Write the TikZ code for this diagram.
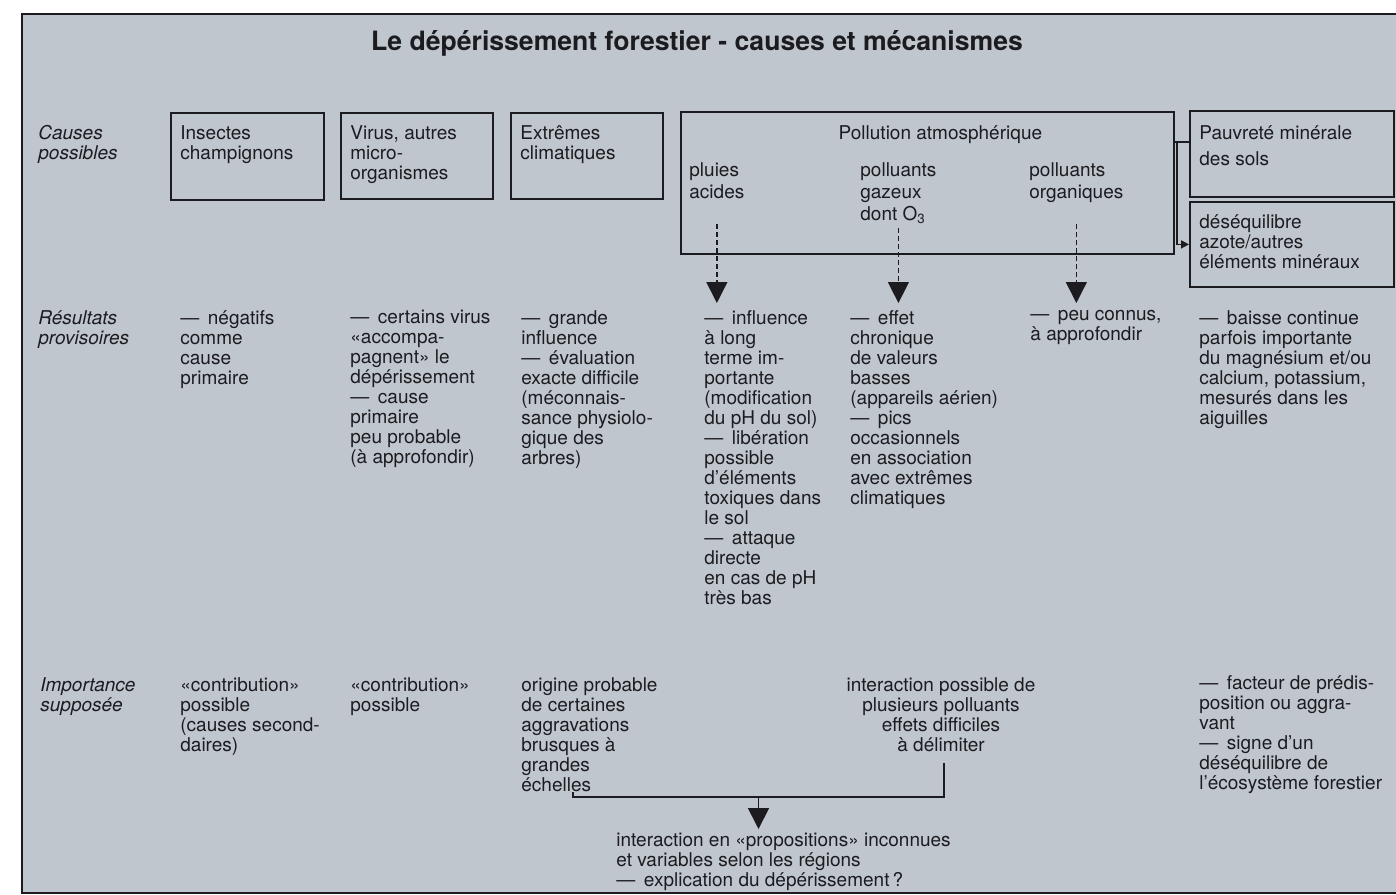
\documentclass[tikz,border=0pt]{standalone}
\usepackage{fontspec}
\setmainfont{TeX Gyre Heros}
\usetikzlibrary{
    arrows.meta,
    positioning,
    calc
}
\definecolor{paper}{RGB}{191,198,206}
\definecolor{ink}{RGB}{28,28,32}
\newcommand{\tiret}{—\hspace{0.45em}}
\tikzset{
  box/.style  = {draw=ink, line width=0.9pt, anchor=north west, inner sep=0pt},
  txt/.style  = {anchor=north west, inner sep=0pt, align=left, text=ink,
                 font=\fontsize{9.5}{10}\selectfont},
  lbl/.style  = {txt, font=\fontsize{9.5}{10}\selectfont\itshape},
  ptxt/.style = {txt, font=\fontsize{9.5}{11}\selectfont}
}

\begin{document}
\begin{tikzpicture}[
  x=0.5pt, y=-0.5pt,
  arr/.style={-{Triangle[width=10.5pt,length=10.5pt]}, ink, line width=0.9pt},
  dasharr/.style={arr, line width=0.7pt, dash pattern=on 2.5pt off 1.5pt, shorten >=3.5pt},
  sarr/.style={-{Triangle[width=4pt,length=4pt]}, ink, line width=0.9pt},
  brk/.style={ink, line width=1pt}
]
\useasboundingbox (0,0) rectangle (1396,894);
\fill[paper] (22,14) rectangle (1430,893);
\draw[ink, line width=1pt] (22,14) rectangle (1430,893);

\node[font=\fontsize{13.3}{16}\selectfont\bfseries, text=ink, anchor=base] (title) at (697,50)
  {Le dépérissement forestier - causes et mécanismes};

% row labels
\node[lbl] (causes) at (38,125) {Causes\\possibles};
\node[lbl] (resultats) at (38,310) {Résultats\\provisoires};
\node[lbl] (importance) at (40,677) {Importance\\supposée};

% causes
\node[box, minimum width=76.5pt, minimum height=43.5pt] (insect) at (170,112) {};
\node[box, minimum width=76pt, minimum height=43pt] (virus) at (340,112) {};
\node[box, minimum width=76pt, minimum height=43pt] (extremes) at (510,112) {};
\node[box, minimum width=246.5pt, minimum height=71pt] (poll) at (680,111) {};
\node[box, minimum width=102pt, minimum height=43pt] (pauv) at (1189,110) {};
\node[box, minimum width=102pt, minimum height=42.5pt] (deseq) at (1189,201) {};

\node[txt] (insectT) at ([shift={(10,13)}]insect.north west) {Insectes\\champignons};
\node[txt] (virusT) at ([shift={(10,13)}]virus.north west) {Virus, autres\\micro-\\organismes};
\node[txt] (extremesT) at ([shift={(10,13)}]extremes.north west) {Extrêmes\\climatiques};
\node[txt, anchor=north] (pollT) at ([shift={(13,14)}]poll.north) {Pollution atmosphérique};
\node[ptxt] (pluies) at ([shift={(9,51)}]poll.north west) {pluies\\acides};
\node[ptxt] (gazeux) at ([shift={(180,51)}]poll.north west) {polluants\\gazeux\\dont O\textsubscript{3}};
\node[ptxt] (organiques) at ([shift={(349,51)}]poll.north west) {polluants\\organiques};
\node[txt, font=\fontsize{9.5}{13}\selectfont] (pauvT) at ([shift={(10,15)}]pauv.north west) {Pauvreté minérale\\des sols};
\node[txt] (deseqT) at ([shift={(10,13)}]deseq.north west) {déséquilibre\\azote/autres\\éléments minéraux};

% resultats provisoires
\node[txt] (r1) at (180,310) {\tiret négatifs\\comme\\cause\\primaire};
\node[txt] (r2) at (350,310) {\tiret certains virus\\«accompa-\\pagnent» le\\dépérissement\\\tiret cause\\primaire\\peu probable\\(à approfondir)};
\node[txt] (r3) at (521,310) {\tiret grande\\influence\\\tiret évaluation\\exacte difficile\\(méconnais-\\sance physiolo-\\gique des\\arbres)};
\node[txt] (r4) at (704,310) {\tiret influence\\à long\\terme im-\\portante\\(modification\\du pH du sol)\\\tiret libération\\possible\\d'éléments\\toxiques dans\\le sol\\\tiret attaque\\directe\\en cas de pH\\très bas};
\node[txt] (r5) at (850,310) {\tiret effet\\chronique\\de valeurs\\basses\\(appareils aérien)\\\tiret pics\\occasionnels\\en association\\avec extrêmes\\climatiques};
\node[txt] (r6) at (1030,310) {\tiret peu connus,\\à approfondir};
\node[txt] (r7) at (1199,310) {\tiret baisse continue\\parfois importante\\du magnésium et/ou\\calcium, potassium,\\mesurés dans les\\aiguilles};

% importance supposee
\node[txt] (i1) at (180,677) {«contribution»\\possible\\(causes second-\\daires)};
\node[txt] (i2) at (350,677) {«contribution»\\possible};
\node[txt] (i3) at (521,677) {origine probable\\de certaines\\aggravations\\brusques à\\grandes\\échelles};
\node[txt, anchor=north, align=center] (i4) at (941,677) {interaction possible de\\plusieurs polluants\\effets difficiles\\à délimiter};
\node[txt] (i5) at (1199,675) {\tiret facteur de prédis-\\position ou aggra-\\vant\\\tiret signe d'un\\déséquilibre de\\l'écosystème forestier};
\node[txt] (bilan) at (616,833) {interaction en «propositions» inconnues\\et variables selon les régions\\\tiret explication du dépérissement\,?};

\draw[dasharr] (pluies.south |- gazeux.south) -- (pluies.south |- r4.north);
\draw[dasharr, shorten <=2pt] (gazeux.south) -- (gazeux.south |- r5.north);
\draw[dasharr] (organiques.south |- gazeux.south) -- (organiques.south |- r6.north);

\coordinate (jn) at (1177,142);
\draw[brk] (poll.east |- jn) -- (pauv.west |- jn);
\draw[sarr] (jn) |- (deseq.west);

\coordinate (blt) at (573,792);
\coordinate (bl) at (573,797);
\coordinate (br) at (944,797);
\coordinate (brt) at (944,763);
\coordinate (bm) at ($(bl)!0.5!(br)$);
\draw[brk] (blt) -- (bl) -- (br) -- (brt);
\draw[arr, shorten >=2pt] (bm) -- (bm |- bilan.north);

\end{tikzpicture}
\end{document}
